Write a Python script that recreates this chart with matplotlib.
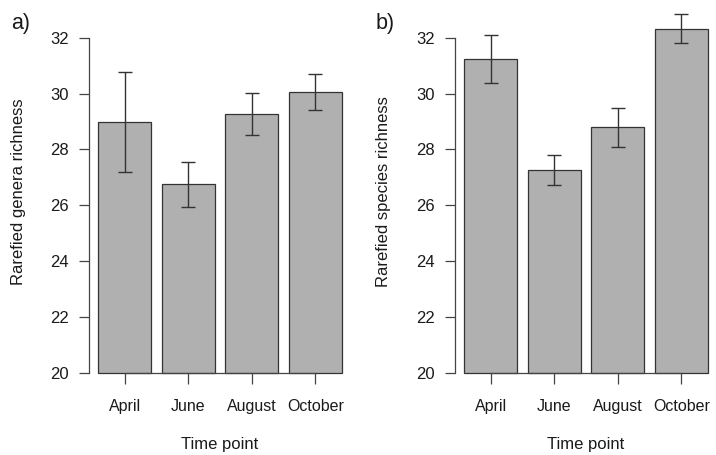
import matplotlib
matplotlib.use("Agg")
import matplotlib.pyplot as plt
import numpy as np

plt.rcParams["font.family"] = ["Liberation Sans", "DejaVu Sans"]

months = ["April", "June", "August", "October"]

genera_mean = [29.0, 26.75, 29.27, 30.07]
genera_lower = [27.18, 25.93, 28.51, 29.43]
genera_upper = [30.79, 27.54, 30.04, 30.72]

species_mean = [31.23, 27.25, 28.80, 32.33]
species_lower = [30.39, 26.72, 28.10, 31.82]
species_upper = [32.11, 27.80, 29.48, 32.84]

W, H = 716, 455
BAR_FILL = "#b0b0b0"
EDGE = "#333333"
TXT = "#1a1a1a"


def panel(fig, left_px, mean, lower, upper, ylabel, tag, ylab_x, tag_x):
    # R-style barplot: width 1, space 0.2, x extended 4%
    bottom_px, top_px = 372.7, 10.0
    width_px = 263.0
    ax = fig.add_axes([left_px / W, 1 - bottom_px / H, width_px / W, (bottom_px - top_px) / H])
    x = np.arange(len(mean)) * 1.2 + 0.7
    mean = np.array(mean)
    yerr = [mean - np.array(lower), np.array(upper) - mean]
    ax.bar(x, mean - 20, bottom=20, width=1.0, color=BAR_FILL, edgecolor=EDGE,
           linewidth=0.9, clip_on=False, zorder=2)
    ax.errorbar(x, mean, yerr=yerr, fmt="none", ecolor=EDGE, elinewidth=1.0,
                capsize=5, capthick=1.0, clip_on=False, zorder=3)
    ax.set_xlim(0.016, 4.984)
    ax.set_ylim(20, 33)
    for s in ("top", "right"):
        ax.spines[s].set_visible(False)
    ax.spines["left"].set_bounds(20, 32)
    ax.spines["bottom"].set_bounds(x[0], x[-1])
    for s in ("left", "bottom"):
        ax.spines[s].set_color("#444444")
        ax.spines[s].set_linewidth(0.9)
    ax.set_yticks([20, 22, 24, 26, 28, 30, 32])
    ax.set_xticks(x)
    ax.set_xticklabels(months)
    ax.tick_params(axis="y", length=7.2, width=0.9, color="#444444", pad=7,
                   labelsize=12, labelcolor=TXT)
    ax.tick_params(axis="x", length=7.6, width=0.9, color="#444444", pad=11,
                   labelsize=11.5, labelcolor=TXT)
    ax.set_xlabel("Time point", fontsize=12, color=TXT)
    ax.xaxis.set_label_coords(0.5, -0.177)
    fig.text(ylab_x / W, 1 - 191.7 / H, ylabel, rotation=90, ha="center",
             va="center", fontsize=12, color=TXT)
    fig.text(tag_x / W, 1 - 23 / H, tag, ha="center", va="center",
             fontsize=15.5, color=TXT)
    return ax


fig = plt.figure(figsize=(W / 100, H / 100), dpi=100)
panel(fig, 88.5, genera_mean, genera_lower, genera_upper,
      "Rarefied genera richness", "a)", 18.3, 21)
panel(fig, 454.5, species_mean, species_lower, species_upper,
      "Rarefied species richness", "b)", 383.5, 385)
fig.savefig("out.png", dpi=100)
